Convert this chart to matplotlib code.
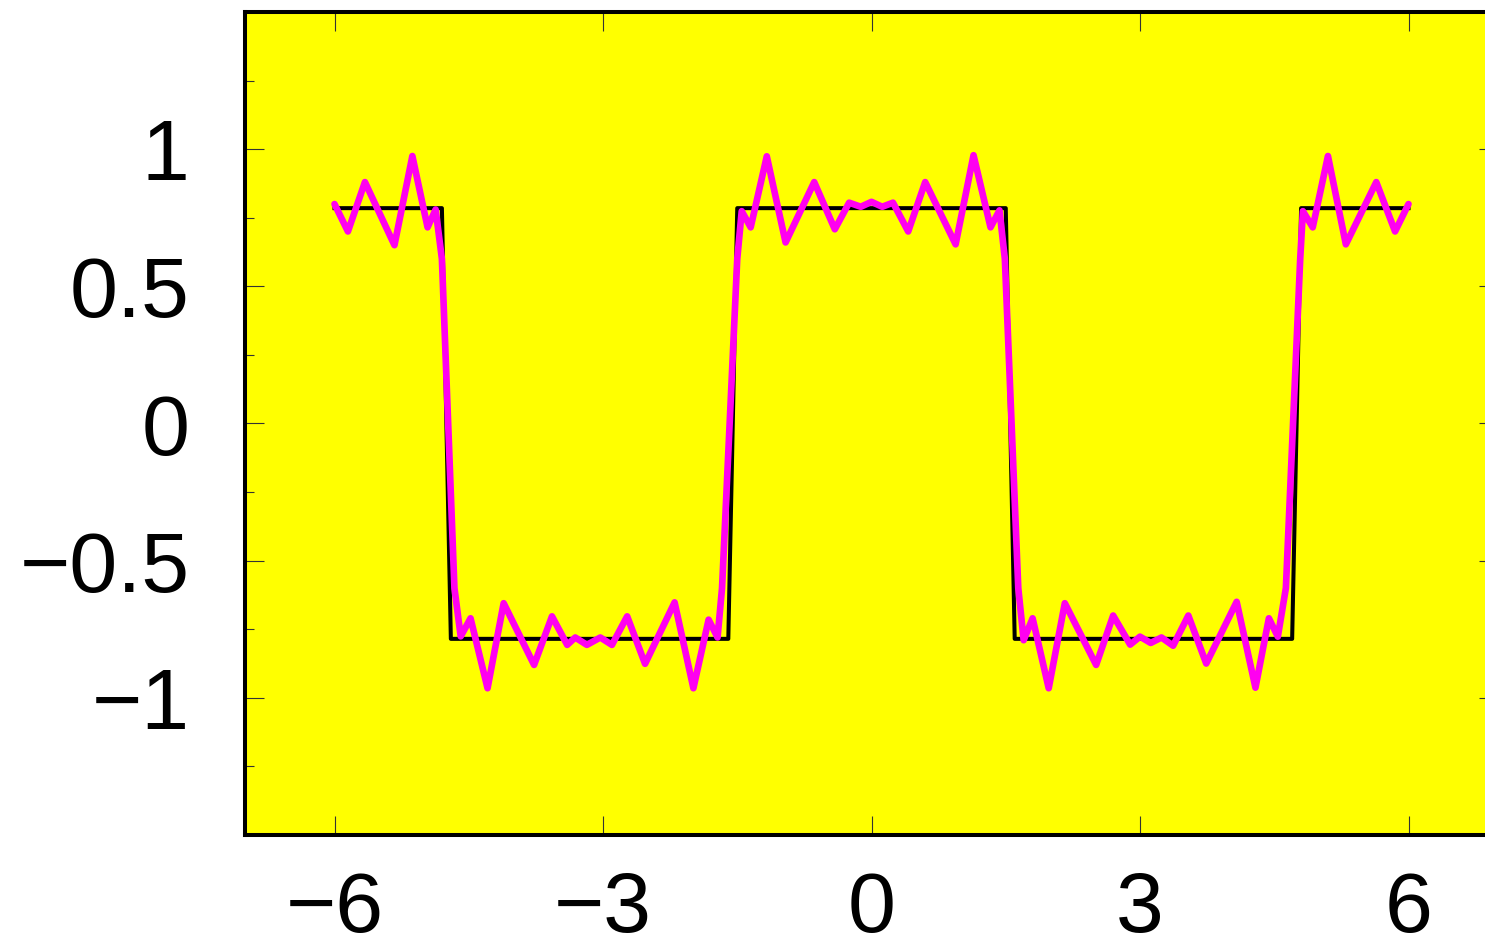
import matplotlib
matplotlib.use("Agg")
import matplotlib.pyplot as plt
from matplotlib.ticker import FixedLocator

# Square wave (black) and its ringing approximation (magenta)
square_x = [-6.0, -4.8, -4.7, -1.6, -1.5, 1.5, 1.6, 4.7, 4.8, 6.0]
square_y = [0.785, 0.785, -0.785, -0.785, 0.785, 0.785, -0.785, -0.785, 0.785, 0.785]

approx_x = [
    -6.00, -5.85, -5.66, -5.33, -5.13, -4.96, -4.87,
    -4.80, -4.66,
    -4.59, -4.48, -4.29, -4.11, -3.77, -3.57, -3.40, -3.31, -3.18, -3.03,
    -2.90, -2.73, -2.53, -2.20, -1.99, -1.82, -1.72,
    -1.67, -1.50,
    -1.45, -1.35, -1.17, -0.96, -0.64, -0.41, -0.25, -0.12, 0.00, 0.12,
    0.24, 0.41, 0.60, 0.94, 1.14, 1.33, 1.43,
    1.49, 1.64,
    1.70, 1.80, 1.98, 2.16, 2.51, 2.70, 2.89, 3.00, 3.12, 3.24,
    3.37, 3.54, 3.74, 4.08, 4.29, 4.44, 4.54,
    4.63, 4.79,
    4.82, 4.93, 5.10, 5.30, 5.64, 5.85, 6.00,
]
approx_y = [
    0.800, 0.700, 0.880, 0.650, 0.975, 0.715, 0.780,
    0.600, -0.600,
    -0.776, -0.710, -0.965, -0.655, -0.880, -0.703, -0.807, -0.780, -0.807, -0.780,
    -0.807, -0.703, -0.876, -0.652, -0.965, -0.715, -0.780,
    -0.600, 0.600,
    0.774, 0.715, 0.974, 0.660, 0.880, 0.708, 0.805, 0.790, 0.808, 0.790,
    0.805, 0.700, 0.880, 0.653, 0.978, 0.715, 0.777,
    0.600, -0.600,
    -0.790, -0.710, -0.965, -0.655, -0.880, -0.700, -0.806, -0.777, -0.800, -0.780,
    -0.810, -0.700, -0.875, -0.650, -0.963, -0.710, -0.777,
    -0.600, 0.600,
    0.774, 0.715, 0.975, 0.653, 0.880, 0.700, 0.800,
]

x_ticks = [-6, -3, 0, 3, 6]
x_labels = ["\u22126", "\u22123", "0", "3", "6"]
y_ticks = [-1, -0.5, 0, 0.5, 1]
y_labels = ["\u22121", "\u22120.5", "0", "0.5", "1"]
y_minor = [-1.25, -0.75, -0.25, 0.25, 0.75, 1.25]

plt.rcParams["font.family"] = ["Liberation Sans", "DejaVu Sans"]

fig = plt.figure(figsize=(14.85, 9.47), dpi=100)
ax = fig.add_axes([245 / 1485, 112 / 947, 1253 / 1485, 823 / 947])
ax.set_facecolor("#ffff00")

ax.plot(square_x, square_y, color="black", lw=2.9, zorder=2)
ax.plot(approx_x, approx_y, color="#ff00f0", lw=4.8, zorder=3,
        solid_joinstyle="round", solid_capstyle="round")

ax.set_xlim(-7, 7)
ax.set_ylim(-1.5, 1.5)

ax.set_xticks(x_ticks)
ax.set_xticklabels(x_labels)
ax.set_yticks(y_ticks)
ax.set_yticklabels(y_labels)
ax.yaxis.set_minor_locator(FixedLocator(y_minor))

ax.tick_params(axis="both", which="both", direction="in", colors="#333333",
               width=0.8, top=True, right=True, labelcolor="black")
ax.tick_params(axis="both", which="major", length=13.5, labelsize=62)
ax.tick_params(axis="both", which="minor", length=6.5)
ax.tick_params(axis="x", which="major", pad=25)
ax.tick_params(axis="y", which="major", pad=40)

for side in ax.spines.values():
    side.set_linewidth(2.9)
    side.set_color("black")

fig.savefig("out.png", dpi=100, facecolor="white")
